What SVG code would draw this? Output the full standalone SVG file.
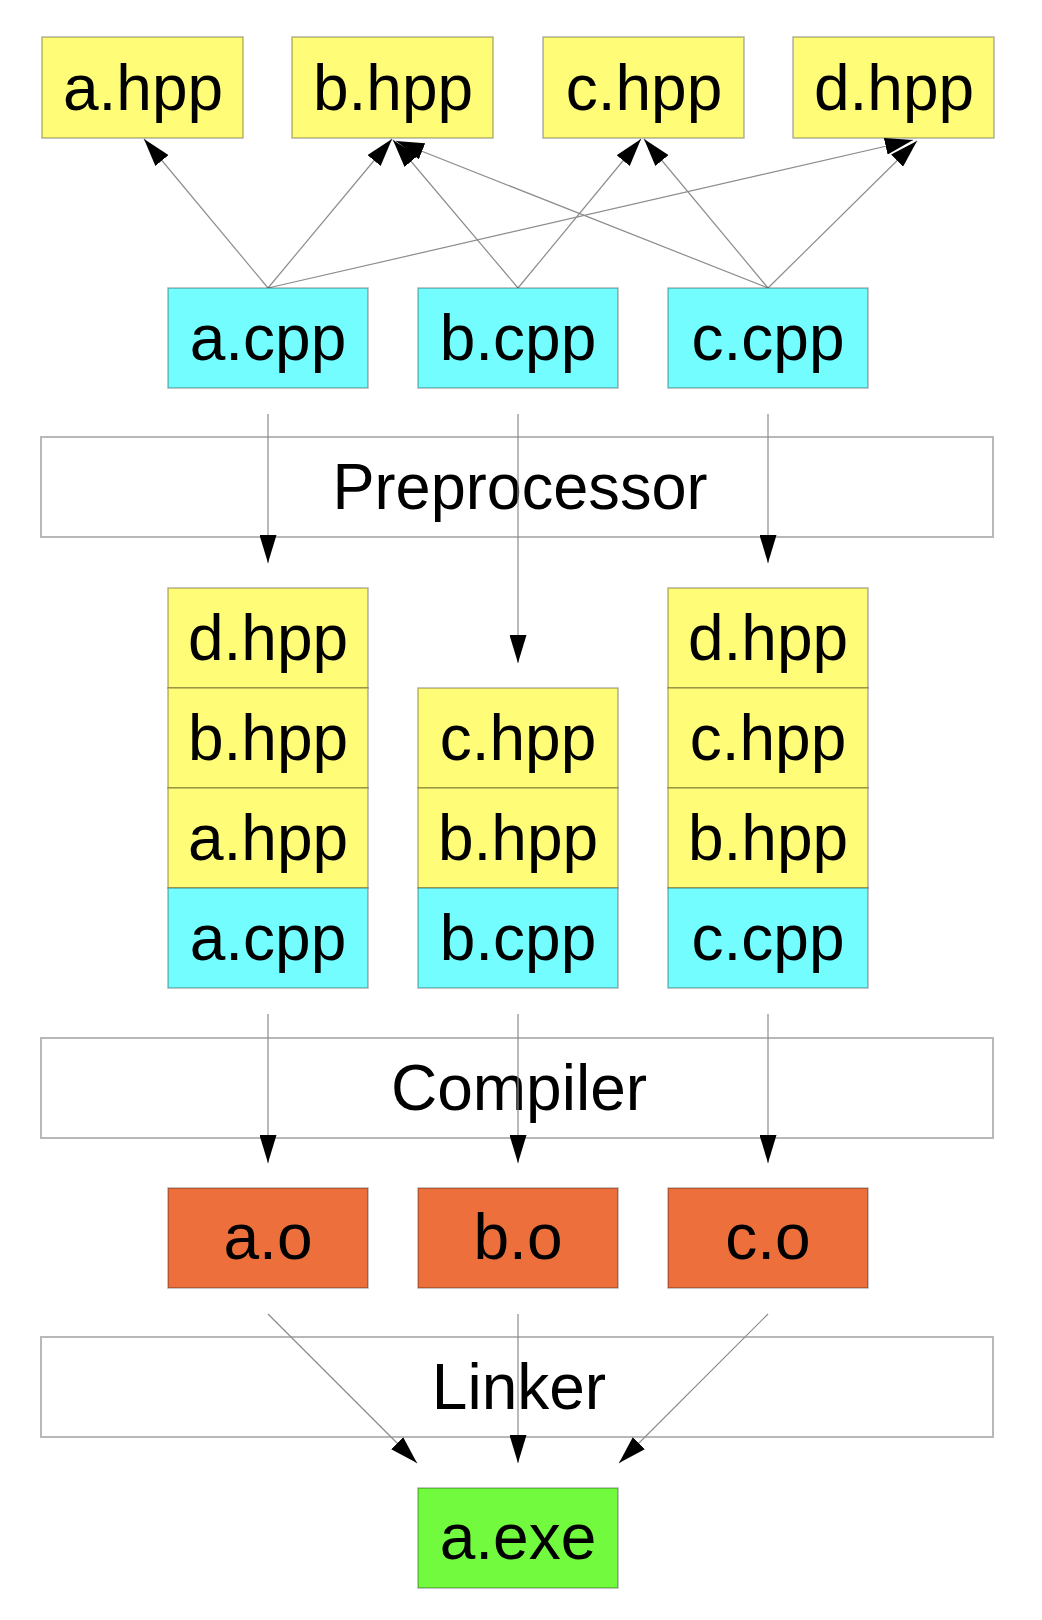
<svg xmlns="http://www.w3.org/2000/svg" width="1042" height="1620" viewBox="0 0 1042 1620">
<style>
.box{stroke:#000;stroke-opacity:0.3;stroke-width:1.5}
.hpp{fill:#FFFC77}
.cpp{fill:#73FDFF}
.obj{fill:#ED703C}
.exe{fill:#72FA3F}
.band{fill:#fff;stroke:#b8b8b8;stroke-width:2}
.t{font-family:"Liberation Sans",Arial,Helvetica,sans-serif;font-size:64px;fill:#000;text-anchor:middle}
.c{fill:none;stroke:#8c8c8c;stroke-width:1.2;marker-end:url(#ah)}
</style>
<defs>
<marker id="ah" markerUnits="userSpaceOnUse" markerWidth="28" markerHeight="17" refX="28" refY="8.5" orient="auto">
<path d="M0,0 L28,8.5 L0,17 Z" fill="#000"/>
</marker>
</defs>
<rect width="1042" height="1620" fill="#fff"/>

<g id="preprocessor"><rect class="band" x="41" y="437" width="952" height="100"/><text class="t" x="520" y="509" textLength="375" lengthAdjust="spacingAndGlyphs">Preprocessor</text></g>
<g id="compiler"><rect class="band" x="41" y="1038" width="952" height="100"/><text class="t" x="519" y="1110">Compiler</text></g>
<g id="linker"><rect class="band" x="41" y="1337" width="952" height="100"/><text class="t" x="519" y="1409">Linker</text></g>

<g id="connectors">
<line class="c" x1="268" y1="288" x2="144" y2="139"/>
<line class="c" x1="268" y1="288" x2="392" y2="139"/>
<line class="c" x1="268" y1="288" x2="913" y2="140"/>
<line class="c" x1="518" y1="288" x2="393" y2="140"/>
<line class="c" x1="518" y1="288" x2="641" y2="139"/>
<line class="c" x1="768" y1="288" x2="396" y2="141"/>
<line class="c" x1="768" y1="288" x2="644" y2="139"/>
<line class="c" x1="768" y1="288" x2="917" y2="141"/>
<line class="c" x1="268" y1="414" x2="268" y2="563"/>
<line class="c" x1="518" y1="414" x2="518" y2="663"/>
<line class="c" x1="768" y1="414" x2="768" y2="563"/>
<line class="c" x1="268" y1="1014" x2="268" y2="1163"/>
<line class="c" x1="518" y1="1014" x2="518" y2="1163"/>
<line class="c" x1="768" y1="1014" x2="768" y2="1163"/>
<line class="c" x1="268" y1="1314" x2="417" y2="1463"/>
<line class="c" x1="518" y1="1314" x2="518" y2="1463"/>
<line class="c" x1="768" y1="1314" x2="619" y2="1463"/>
</g>

<g id="a_hpp"><rect class="box hpp" x="42" y="37" width="201" height="101"/><text class="t" x="143" y="110">a.hpp</text></g>
<g id="b_hpp"><rect class="box hpp" x="292" y="37" width="201" height="101"/><text class="t" x="393" y="110">b.hpp</text></g>
<g id="c_hpp"><rect class="box hpp" x="543" y="37" width="201" height="101"/><text class="t" x="644" y="110">c.hpp</text></g>
<g id="d_hpp"><rect class="box hpp" x="793" y="37" width="201" height="101"/><text class="t" x="894" y="110">d.hpp</text></g>

<g id="a_cpp"><rect class="box cpp" x="168" y="288" width="200" height="100"/><text class="t" x="268" y="360">a.cpp</text></g>
<g id="b_cpp"><rect class="box cpp" x="418" y="288" width="200" height="100"/><text class="t" x="518" y="360">b.cpp</text></g>
<g id="c_cpp"><rect class="box cpp" x="668" y="288" width="200" height="100"/><text class="t" x="768" y="360">c.cpp</text></g>

<g id="stack_a">
<rect class="box hpp" x="168" y="588" width="200" height="100"/><text class="t" x="268" y="660">d.hpp</text>
<rect class="box hpp" x="168" y="688" width="200" height="100"/><text class="t" x="268" y="760">b.hpp</text>
<rect class="box hpp" x="168" y="788" width="200" height="100"/><text class="t" x="268" y="860">a.hpp</text>
<rect class="box cpp" x="168" y="888" width="200" height="100"/><text class="t" x="268" y="960">a.cpp</text>
</g>
<g id="stack_b">
<rect class="box hpp" x="418" y="688" width="200" height="100"/><text class="t" x="518" y="760">c.hpp</text>
<rect class="box hpp" x="418" y="788" width="200" height="100"/><text class="t" x="518" y="860">b.hpp</text>
<rect class="box cpp" x="418" y="888" width="200" height="100"/><text class="t" x="518" y="960">b.cpp</text>
</g>
<g id="stack_c">
<rect class="box hpp" x="668" y="588" width="200" height="100"/><text class="t" x="768" y="660">d.hpp</text>
<rect class="box hpp" x="668" y="688" width="200" height="100"/><text class="t" x="768" y="760">c.hpp</text>
<rect class="box hpp" x="668" y="788" width="200" height="100"/><text class="t" x="768" y="860">b.hpp</text>
<rect class="box cpp" x="668" y="888" width="200" height="100"/><text class="t" x="768" y="960">c.cpp</text>
</g>

<g id="a_o"><rect class="box obj" x="168" y="1188" width="200" height="100"/><text class="t" x="268" y="1259">a.o</text></g>
<g id="b_o"><rect class="box obj" x="418" y="1188" width="200" height="100"/><text class="t" x="518" y="1259">b.o</text></g>
<g id="c_o"><rect class="box obj" x="668" y="1188" width="200" height="100"/><text class="t" x="768" y="1259">c.o</text></g>

<g id="a_exe"><rect class="box exe" x="418" y="1488" width="200" height="100"/><text class="t" x="518" y="1559">a.exe</text></g>
</svg>
